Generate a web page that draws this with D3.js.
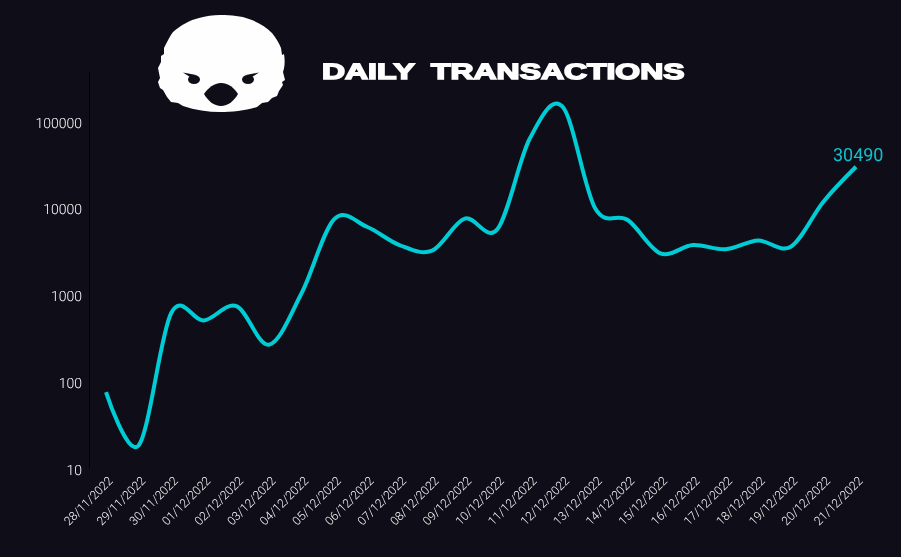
<!DOCTYPE html>
<html><head><meta charset="utf-8">
<script src="https://cdn.jsdelivr.net/npm/d3@7"></script>
<style>html,body{margin:0;padding:0;background:#0f0e18;overflow:hidden}svg{display:block;will-change:transform;opacity:.999}text{text-rendering:geometricPrecision}</style>
</head><body><svg id="c" width="901" height="557"></svg>
<script>
const dates=["28/11/2022","29/11/2022","30/11/2022","01/12/2022","02/12/2022","03/12/2022","04/12/2022","05/12/2022","06/12/2022","07/12/2022","08/12/2022","09/12/2022","10/12/2022","11/12/2022","12/12/2022","13/12/2022","14/12/2022","15/12/2022","16/12/2022","17/12/2022","18/12/2022","19/12/2022","20/12/2022","21/12/2022"];
const transactions=[77,18.7,628,515,755,271,1069,7600,6200,3820,3284,7700,5795,64880,150000,10120,7420,3066,3820,3409,4300,3652,12060,30490];
const yTicks=[10,100,1000,10000,100000];
const titleText="DAILY TRANSACTIONS";

const svg=d3.select("#c");
const x=d3.scalePoint().domain(dates).range([106,856]);
const y=d3.scaleLog().domain([10,100000]).range([469,122]);

svg.append("line").attr("x1",89.5).attr("x2",89.5).attr("y1",72).attr("y2",468).attr("stroke","#000");
svg.selectAll(".yl").data(yTicks).join("text").attr("class","yl")
  .attr("x",82).attr("y",d=>y(d)+5.5).attr("text-anchor","end")
  .attr("fill","#fff").attr("font-family","Roboto").attr("font-weight",300).attr("font-size",14).text(d=>d);
svg.selectAll(".xl").data(dates).join("text").attr("class","xl")
  .attr("transform",d=>`translate(${x(d)+7.5},${481.5}) rotate(-45)`).attr("text-anchor","end")
  .attr("fill","#fff").attr("font-family","Roboto").attr("font-weight",300).attr("font-size",12).text(d=>d);
const line=d3.line().x((d,i)=>x(dates[i])).y(d=>y(d)).curve(d3.curveCardinal.tension(0));
svg.append("path").datum(transactions).attr("d",line).attr("fill","none").attr("stroke","#00cdd6").attr("stroke-width",4);
const li=transactions.length-1;
svg.append("text").attr("x",x(dates[li])+27.5).attr("y",y(transactions[li])-6).attr("text-anchor","end")
  .attr("fill","#12c2cc").attr("font-family","Roboto").attr("font-size",18).text(transactions[li]);
svg.append("text").attr("transform","translate(322,78.5) scale(1.45,1)")
  .attr("fill","#fff").attr("stroke","#fff").attr("stroke-width",1.5).attr("font-family","Liberation Sans").attr("font-weight",700).attr("font-size",22).attr("word-spacing",5.5).text(titleText);
const g=svg.append("g");
g.append("path").attr("fill","#fff").attr("d","M220 15 C232 15 241 16 249 19 C258 22 266 27 272 33 C276 38 279 43 281 48 L282 55 L284 54 C285 60 285 66 283 72 L285 80 L282 82 L283 85 L279 91 L277 96 L272 98 L268 102 L262 103 L257 107 C245 111 232 112 220 112 C208 112 195 110 183 106 L178 103 L171 102 L167 97 L163 90 L160 88 L158 82 L160 78 L158 68 L161 62 L161 56 L164 54 L164 48 C167 42 170 36 173 32 C181 25 190 20 199 18 C206 16 213 15 220 15 Z");
g.append("path").attr("fill","#0f0e18").attr("d","M204 94 C208 88 214 83 221 83 C229 83 234 88 238 94 C234 101 228 106 221 106 C214 106 208 101 204 94 Z");
g.append("ellipse").attr("cx",194).attr("cy",79.5).attr("rx",6).attr("ry",4.5).attr("fill","#0f0e18");
g.append("ellipse").attr("cx",248).attr("cy",79.5).attr("rx",6).attr("ry",4.5).attr("fill","#0f0e18");
g.append("path").attr("fill","#0f0e18").attr("d","M183 72.5 L196 75 L190 77 Z");
g.append("path").attr("fill","#0f0e18").attr("d","M259 72.5 L246 75 L252 77 Z");
</script></body></html>
